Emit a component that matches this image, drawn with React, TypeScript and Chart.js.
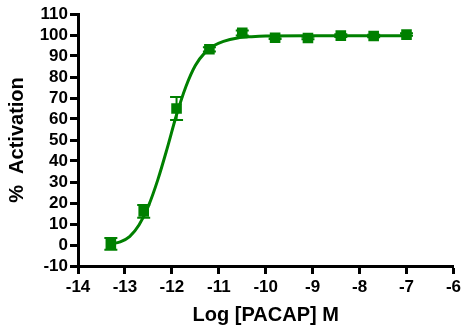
import React, { useEffect, useRef } from "react";
import { Chart, registerables } from "chart.js";

Chart.register(...registerables);

// Measured points (mean ± error)
const logDose = [-13.3, -12.6, -11.9, -11.2, -10.5, -9.8, -9.1, -8.4, -7.7, -7.0];
const activation = [0.5, 16, 65, 93.2, 101, 98.7, 98.6, 99.7, 99.5, 100.2];
const activationErr = [2.8, 3, 5.5, 1, 1.2, 0.6, 0.6, 0.6, 0.6, 0.6];

// Fitted curve
const fitLogDose = [-13.3, -13.1, -12.9, -12.7, -12.5, -12.3, -12.1, -11.9, -11.7, -11.5, -11.3, -11.1, -10.9, -10.6, -10.3, -10.0, -9.0, -8.0, -7.0];
const fitActivation = [0.5, 1.5, 4.0, 9.5, 18.5, 31, 46, 62, 75.5, 85.5, 91.5, 95, 97, 98.6, 99.2, 99.5, 99.6, 99.6, 99.7];

const xMin = -14;
const xMax = -6;
const yMin = -10;
const yMax = 110;

const GREEN = "#008000";
const FONT = "'Liberation Sans', Arial, sans-serif";

export default function App() {
  const ref = useRef<HTMLCanvasElement | null>(null);

  useEffect(() => {
    document.body.style.margin = "0";
    const canvas = ref.current;
    if (!canvas) return;

    const errorSets = logDose.map((x, i) => ({
      type: "line" as const,
      data: [
        { x, y: activation[i] - activationErr[i] },
        { x, y: activation[i] + activationErr[i] },
      ],
      borderColor: GREEN,
      borderWidth: 2,
      showLine: true,
      pointStyle: "line" as const,
      pointRadius: 6.5,
      pointBorderWidth: 2,
      pointBorderColor: GREEN,
      pointBackgroundColor: GREEN,
      order: 2,
    }));

    const chart = new Chart(canvas, {
      type: "line",
      data: {
        datasets: [
          {
            data: fitLogDose.map((x, i) => ({ x, y: fitActivation[i] })),
            borderColor: GREEN,
            borderWidth: 3,
            pointRadius: 0,
            cubicInterpolationMode: "monotone",
            order: 3,
          },
          ...errorSets,
          {
            data: logDose.map((x, i) => ({ x, y: activation[i] })),
            showLine: false,
            pointStyle: "rect",
            pointRadius: 7.5,
            pointBorderWidth: 0,
            pointBackgroundColor: GREEN,
            pointBorderColor: GREEN,
            order: 1,
          },
        ] as any,
      },
      options: {
        responsive: false,
        animation: false,
        layout: { padding: { top: 14, right: 8, bottom: 0, left: 0 } },
        plugins: {
          legend: { display: false },
          tooltip: { enabled: false },
        },
        scales: {
          x: {
            type: "linear",
            min: xMin,
            max: xMax,
            ticks: {
              stepSize: 1,
              autoSkip: false,
              maxRotation: 0,
              color: "#000",
              font: { family: FONT, size: 17, weight: "bold" },
              padding: 3,
            },
            grid: {
              drawOnChartArea: false,
              drawTicks: true,
              tickLength: 8,
              tickWidth: 3,
              tickColor: "#000",
            },
            border: { display: true, color: "#000", width: 3 },
            title: {
              display: true,
              text: "Log [PACAP] M",
              color: "#000",
              font: { family: FONT, size: 20, weight: "bold" },
              padding: { top: 0, bottom: 1 },
            },
            afterFit: (scale: any) => {
              scale.height = 62;
            },
          },
          y: {
            type: "linear",
            min: yMin,
            max: yMax,
            ticks: {
              stepSize: 10,
              autoSkip: false,
              color: "#000",
              font: { family: FONT, size: 17, weight: "bold", lineHeight: 1 },
              padding: 2,
            },
            grid: {
              drawOnChartArea: false,
              drawTicks: true,
              tickLength: 8,
              tickWidth: 3,
              tickColor: "#000",
            },
            border: { display: true, color: "#000", width: 3 },
            title: {
              display: true,
              text: "%  Activation",
              color: "#000",
              font: { family: FONT, size: 20, weight: "bold" },
              padding: { top: 5, bottom: 0 },
            },
            afterFit: (scale: any) => {
              scale.width = 78;
            },
          },
        },
      } as any,
    });

    return () => chart.destroy();
  }, []);

  return (
    <div style={{ position: "absolute", left: 0, top: 0, width: 464, height: 328 }}>
      <canvas ref={ref} width={464} height={328} />
    </div>
  );
}
